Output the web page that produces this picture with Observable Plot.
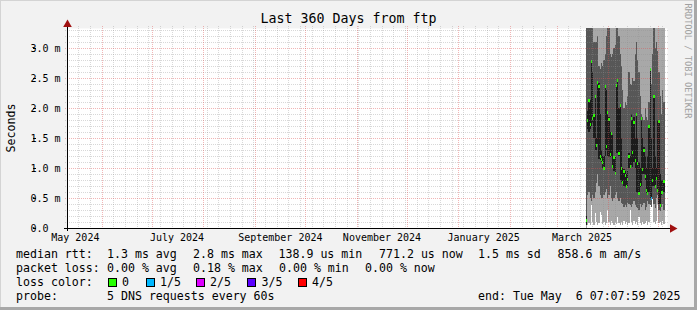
<!DOCTYPE html>
<html><head><meta charset="utf-8">
<script src="https://cdn.jsdelivr.net/npm/d3@7"></script>
<script src="https://cdn.jsdelivr.net/npm/@observablehq/plot@0.6"></script>
<style>
html,body{margin:0;padding:0;background:#f2f2f2;}
#chart{position:relative;width:697px;height:310px;background:#f2f2f2;overflow:hidden;font-family:"DejaVu Sans Mono",monospace;color:#000;}
#plot{position:absolute;left:0;top:0;}
.t{position:absolute;white-space:pre;font-size:11.6px;line-height:14px;}
.box{position:absolute;width:7px;height:7px;border:1px solid #000;}
.edge{position:absolute;}
</style></head>
<body>
<div id="chart">
  <div id="plot"></div>
</div>
<script>
// ---------- data ----------
const titleText = "Last 360 Days from ftp";
const yAxisTitle = "Seconds";
const watermark = "RRDTOOL / TOBI OETIKER";
const rangeStart = "2024-05-11T07:07:59Z";
const rangeEnd = "2025-05-06T07:07:59Z";
const yMajorTicks = [0, 0.5, 1, 1.5, 2, 2.5, 3];
const yTickLabels = ["0.0", "0.5 m", "1.0 m", "1.5 m", "2.0 m", "2.5 m", "3.0 m"];
const monthLabelDates = ["2024-05-16", "2024-07-16", "2024-09-16", "2024-11-16", "2025-01-16", "2025-03-16"];
const monthLabels = ["May 2024", "July 2024", "September 2024", "November 2024", "January 2025", "March 2025"];
const sampleStart = "2025-03-18T16:00:00Z";
const stepHours = 18;
// median rtt (ms) per consolidated step
const median = [0.13,1.80,2.13,1.72,2.77,1.82,1.88,2.19,1.38,2.42,2.36,1.19,1.14,1.10,1.00,2.36,1.36,1.92,1.81,1.22,1.58,1.02,1.18,0.91,2.37,2.46,1.25,2.05,1.00,0.76,0.94,0.87,0.69,0.81,1.19,1.02,1.83,1.26,1.76,1.13,1.90,1.08,0.58,0.73,1.83,0.97,1.30,0.86,0.63,0.58,1.69,2.64,0.50,0.80,2.19,0.70,0.83,0.63,1.77,0.38,0.60,0.60,0.77];
// loss level (0..4 of 5) per step
const lossLevel = [0,0,0,0,0,0,0,0,0,0,0,0,0,0,0,0,0,0,0,0,0,0,0,0,0,0,0,0,0,0,0,0,0,0,0,0,0,0,0,0,0,0,0,0,0,0,0,0,0,0,0,0,1,0,0,0,0,0,0,0,0,0,0];
// range of the median inside each step (dark band)
const medianLow = [0.05,1.65,1.60,1.65,1.70,1.75,1.50,1.30,1.30,1.40,1.15,1.13,1.10,1.00,0.97,1.20,1.30,1.20,1.18,1.18,1.20,1.00,0.95,0.90,1.25,1.25,1.20,0.80,0.76,0.75,0.70,0.69,0.68,0.70,1.00,1.00,1.05,1.02,1.10,1.00,0.60,0.58,0.56,0.68,0.70,0.90,0.90,0.80,0.58,0.57,0.60,0.50,0.48,0.70,0.70,0.68,0.80,0.60,0.40,0.37,0.55,0.58,0.60];
const medianHigh = [0.20,1.95,2.15,2.13,2.77,2.60,1.90,2.19,1.50,2.42,2.42,1.90,1.30,1.20,1.20,2.36,2.30,1.92,1.85,1.60,1.60,1.55,1.20,1.18,2.40,2.47,2.00,2.05,1.50,1.00,0.99,0.95,0.90,0.95,1.25,1.20,1.90,1.80,1.85,1.50,1.90,1.50,1.10,1.00,1.83,1.50,1.35,1.20,1.00,1.20,1.70,2.65,1.50,1.00,2.20,1.20,1.00,1.80,1.80,0.90,0.80,0.80,0.80];
// smoke: lowest ping (top of white), edge of lower light smoke, start of upper light smoke (9 = above chart)
const pingMin = [0.00,0.05,0.08,0.05,0.38,0.10,0.05,0.25,0.10,0.05,0.08,0.27,0.22,0.06,0.10,0.05,0.08,0.30,0.10,0.05,0.12,0.08,0.05,0.10,0.06,0.18,0.08,0.05,0.10,0.05,0.12,0.06,0.10,0.05,0.08,0.30,0.10,0.05,0.12,0.06,0.10,0.05,0.18,0.08,0.05,0.10,0.06,0.08,0.12,0.05,0.10,0.45,0.43,0.48,0.10,0.06,0.12,0.40,0.08,0.10,0.05,0.12,0.06];
const smokeLowEdge = [0.15,0.55,0.60,0.50,0.45,0.55,0.50,0.60,0.75,0.90,0.70,0.55,0.50,0.50,0.55,0.60,0.65,0.50,0.55,0.70,0.50,0.45,0.50,0.55,0.60,0.50,0.45,0.50,0.42,0.40,0.35,0.38,0.35,0.42,0.40,0.38,0.35,0.40,0.45,0.38,0.35,0.33,0.30,0.40,0.35,0.38,0.42,0.30,0.35,0.45,0.40,0.38,0.35,0.48,0.40,0.33,0.50,0.55,0.30,0.28,0.35,0.40,0.30];
const smokeHighEdge = [9,9,9,9,9,9,3.10,3.10,3.10,3.20,2.70,2.65,2.75,2.70,2.80,2.90,3.20,9,9,2.90,2.85,2.90,3.00,3.05,9,9,3.20,2.90,2.70,2.30,2.00,2.10,2.05,2.20,2.60,2.40,2.38,2.50,2.45,2.90,3.10,2.80,2.60,2.20,1.90,1.85,1.80,2.00,1.85,1.80,2.10,2.60,2.40,2.90,9,3.00,3.10,2.95,2.60,2.20,1.90,2.30,2.10];
const lossColors = ["#26ff00", "#00b8ff", "#dd00ff", "#5a00ff", "#ff0000"];
const lossLabels = ["0", "1/5", "2/5", "3/5", "4/5"];
const statsMedian = ["median rtt:", "1.3 ms avg", "2.8 ms max", "138.9 us min", "771.2 us now", "1.5 ms sd", "858.6 m am/s"];
const statsLoss = ["packet loss:", "0.00 % avg", "0.18 % max", "0.00 % min", "0.00 % now"];
const probeText = ["probe:", "5 DNS requests every 60s"];
const endText = "end: Tue May  6 07:07:59 2025";

// ---------- build ----------
const YMAX = 10 / 3;
const t0 = new Date(rangeStart), t1 = new Date(rangeEnd);
const s0 = new Date(sampleStart);
const rows = median.map((m, i) => ({
  a: d3.utcHour.offset(s0, stepHours * i),
  b: d3.utcHour.offset(s0, stepHours * (i + 1)),
  med: m, loss: lossLevel[i], mn: pingMin[i], lo: smokeLowEdge[i],
  hi: Math.min(smokeHighEdge[i], YMAX), bl: medianLow[i], bh: medianHigh[i]
}));
const weekTicks = d3.utcSaturday.range(t0, t1).filter(d => d.getUTCDate() !== 1);
const monthTicks = d3.utcMonth.range(t0, t1);
const yMinor = d3.range(1, 34).map(k => k / 10).filter(v => Math.abs(v * 2 - Math.round(v * 2)) > 1e-6);
const labelDates = monthLabelDates.map(s => new Date(s + "T00:00:00Z"));
const crisp = {shapeRendering: "crispEdges"};

const plot = Plot.plot({
  width: 697, height: 245,
  marginLeft: 67, marginRight: 30, marginTop: 28, marginBottom: 17,
  style: {background: "transparent", fontFamily: "'DejaVu Sans Mono', monospace", fontSize: "10px", overflow: "visible"},
  x: {type: "utc", domain: [t0, t1], label: null, axis: null},
  y: {domain: [0, YMAX], label: null, axis: null},
  color: {type: "identity"},
  marks: [
    Plot.frame({fill: "#ffffff", stroke: null}),
    Plot.rect(rows, {x1: "a", x2: "b", y1: "mn", y2: "lo", fill: "#a8a8a8", ...crisp}),
    Plot.rect(rows, {x1: "a", x2: "b", y1: "lo", y2: "hi", fill: "#575757", ...crisp}),
    Plot.rect(rows.filter(d => d.hi < YMAX), {x1: "a", x2: "b", y1: "hi", y2: () => YMAX, fill: "#a8a8a8", ...crisp}),
    Plot.rect(rows, {x1: "a", x2: "b", y1: "bl", y2: "bh", fill: "#1c1c1c", ...crisp}),
    Plot.rect(rows, {x1: "a", x2: "b", y1: d => d.med - 0.025, y2: d => d.med + 0.025, fill: d => lossColors[d.loss], ...crisp}),
    // grid (rrdtool draws it over the graph)
    Plot.gridY(yMinor, {stroke: "#8f8f8f", strokeOpacity: 0.35, strokeDasharray: "1,1", insetLeft: -2, insetRight: -2, ...crisp}),
    Plot.gridX(weekTicks, {stroke: "#8f8f8f", strokeOpacity: 0.35, strokeDasharray: "1,1", insetTop: -2, insetBottom: -2, ...crisp}),
    Plot.gridY(yMajorTicks.filter(v => v > 0), {stroke: "#de5151", strokeOpacity: 0.42, strokeDasharray: "1,1", insetLeft: -2, insetRight: -2, ...crisp}),
    Plot.gridX(monthTicks, {stroke: "#de5151", strokeOpacity: 0.42, strokeDasharray: "1,1", insetTop: -2, insetBottom: -2, ...crisp}),
    // axes
    Plot.ruleY([0], {stroke: "#000", insetLeft: -3, insetRight: -3, ...crisp}),
    Plot.ruleX([t0], {stroke: "#000", insetTop: -3, insetBottom: -3, ...crisp}),
    Plot.dot([t1], {x: d => d, y: () => 0, symbol: "triangle", r: 3.2, rotate: 90, dx: 5, fill: "#a01010", stroke: null}),
    Plot.dot([t0], {x: d => d, y: () => YMAX, symbol: "triangle", r: 3.2, dy: -4, fill: "#a01010", stroke: null}),
    Plot.axisY(yMajorTicks, {anchor: "left", tickSize: 3, tickPadding: 3, textAnchor: "start", dx: -31,
      tickFormat: v => yTickLabels[yMajorTicks.indexOf(v)], fontSize: 10, fill: "#000", stroke: "#000"}),
    Plot.axisX(labelDates, {anchor: "bottom", tickSize: 0, tickPadding: 5, fontSize: 10, fill: "#000",
      tickFormat: d => monthLabels[labelDates.findIndex(e => +e === +d)]})
  ]
});
document.getElementById("plot").appendChild(plot);

// ---------- html text ----------
const chart = document.getElementById("chart");
function add(text, x, y, extra) {
  const el = document.createElement("div");
  el.className = "t";
  el.textContent = text;
  el.style.left = x + "px";
  el.style.top = y + "px";
  if (extra) Object.assign(el.style, extra);
  chart.appendChild(el);
  return el;
}
// frame edges
[["0px","0px","697px","1px","#d4d4d4"],["0px","0px","1px","310px","#d4d4d4"],
 ["0px","307px","697px","3px","#a8a8a8"],["694px","0px","3px","310px","#a8a8a8"]].forEach(([l,t,w,h,c]) => {
  const e = document.createElement("div"); e.className = "edge";
  Object.assign(e.style, {left: l, top: t, width: w, height: h, background: c}); chart.appendChild(e);
});
add(titleText, 0, 11, {width: "697px", textAlign: "center", fontSize: "13.3px", lineHeight: "16px"});
add(yAxisTitle, -14, 121, {width: "50px", textAlign: "center", transform: "rotate(-90deg)", fontSize: "11.6px"});
add(watermark, 627, 54, {width: "122px", textAlign: "center", transform: "rotate(90deg)", fontSize: "8.7px", color: "#a0a0a0"});

const row1 = [16, 107, 193, 278.5, 379, 478, 557.5];
statsMedian.forEach((s, i) => add(s, row1[i], 247));
const row2 = [16, 107, 193, 279, 365];
statsLoss.forEach((s, i) => add(s, row2[i], 261));
add("loss color:", 16, 275);
const boxX = [108, 146, 196, 247, 298];
const lblX = [122, 160, 210, 261.5, 312];
lossLabels.forEach((s, i) => {
  const b = document.createElement("div"); b.className = "box";
  b.style.left = boxX[i] + "px"; b.style.top = "278px"; b.style.background = lossColors[i];
  chart.appendChild(b);
  add(s, lblX[i], 275);
});
add(probeText[0], 16, 289);
add(probeText[1], 107, 289);
add(endText, 478, 289);
</script>
</body></html>
